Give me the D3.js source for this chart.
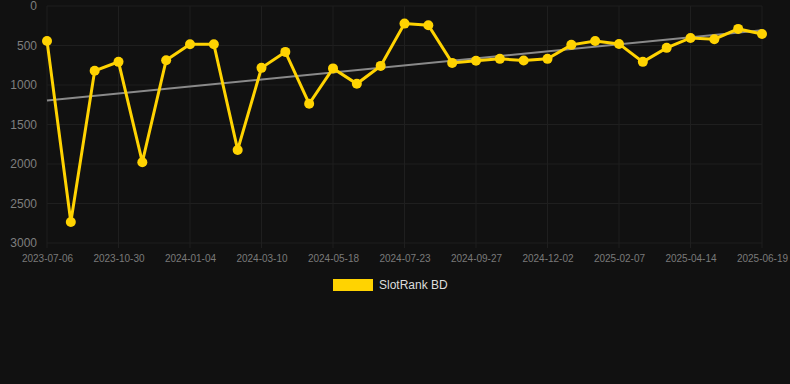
<!DOCTYPE html>
<html>
<head>
<meta charset="utf-8">
<script src="https://cdn.jsdelivr.net/npm/d3@7"></script>
<style>
  body { margin: 0; background: #111111; }
  svg { display: block; font-family: "Liberation Sans", Arial, sans-serif; }
</style>
</head>
<body>
<svg id="chart" width="790" height="384"></svg>
<script>
// dates (every third one is read off the axis, the rest are estimated)
const dates = [
  '2023-07-06', '2023-08-14', '2023-09-22', '2023-10-30', '2023-11-21', '2023-12-13',
  '2024-01-04', '2024-01-26', '2024-02-17', '2024-03-10', '2024-04-02', '2024-04-25',
  '2024-05-18', '2024-06-09', '2024-07-01', '2024-07-23', '2024-08-14', '2024-09-05',
  '2024-09-27', '2024-10-19', '2024-11-10', '2024-12-02', '2024-12-24', '2025-01-16',
  '2025-02-07', '2025-03-01', '2025-03-23', '2025-04-14', '2025-05-06', '2025-05-28',
  '2025-06-19'
];
const ranks = [
  442, 2735, 820, 707, 1977, 686,
  484, 484, 1822, 783, 581, 1237,
  790, 985, 758, 223, 244, 720,
  694, 669, 690, 669, 492, 442,
  480, 707, 530, 404, 420, 290,
  354
];
const yTicks = [0, 500, 1000, 1500, 2000, 2500, 3000];
const seriesName = 'SlotRank BD';

const svg = d3.select('#chart');
const margin = { top: 6, right: 28, bottom: 141, left: 47 };
const width = 790 - margin.left - margin.right;
const height = 384 - margin.top - margin.bottom;

const x = d3.scalePoint().domain(dates).range([0, width]);
const y = d3.scaleLinear().domain([0, 3000]).range([0, height]);

const g = svg.append('g').attr('transform', `translate(${margin.left},${margin.top})`);

// grid
g.append('g')
  .selectAll('line.h')
  .data(yTicks)
  .enter()
  .append('line')
  .attr('x1', 0).attr('x2', width)
  .attr('y1', d => y(d)).attr('y2', d => y(d))
  .attr('stroke', '#1f1f1f').attr('stroke-width', 1);

const xTicks = dates.filter((d, i) => i % 3 === 0);
g.append('g')
  .selectAll('line.v')
  .data(xTicks)
  .enter()
  .append('line')
  .attr('x1', d => x(d)).attr('x2', d => x(d))
  .attr('y1', 0).attr('y2', height + 5)
  .attr('stroke', '#1f1f1f').attr('stroke-width', 1);

// axes
const yAxis = g.append('g')
  .call(d3.axisLeft(y).tickValues(yTicks).tickFormat(d3.format('d')).tickSize(0).tickPadding(10));
yAxis.select('.domain').remove();
yAxis.selectAll('text')
  .attr('fill', '#7f7f7f')
  .style('font-size', '12px');

const xAxis = g.append('g')
  .attr('transform', `translate(0,${height})`)
  .call(d3.axisBottom(x).tickValues(xTicks).tickSize(0).tickPadding(12));
xAxis.select('.domain').remove();
xAxis.selectAll('text')
  .attr('fill', '#7a7a7a')
  .style('font-size', '10px');

// trend line (least squares over the series)
const n = ranks.length;
const mx = d3.mean(d3.range(n));
const my = d3.mean(ranks);
const slope = d3.sum(ranks, (v, i) => (i - mx) * (v - my)) / d3.sum(d3.range(n), i => (i - mx) * (i - mx));
const icpt = my - slope * mx;
g.append('line')
  .attr('x1', x(dates[0])).attr('y1', y(icpt))
  .attr('x2', x(dates[n - 1])).attr('y2', y(icpt + slope * (n - 1)))
  .attr('stroke', '#8a8a8a')
  .attr('stroke-width', 2);

// series
const data = dates.map((d, i) => ({ date: d, value: ranks[i] }));
g.append('path')
  .datum(data)
  .attr('fill', 'none')
  .attr('stroke', '#FFD301')
  .attr('stroke-width', 3)
  .attr('d', d3.line().x(d => x(d.date)).y(d => y(d.value)));

g.append('g')
  .selectAll('circle')
  .data(data)
  .enter()
  .append('circle')
  .attr('cx', d => x(d.date))
  .attr('cy', d => y(d.value))
  .attr('r', 5)
  .attr('fill', '#FFD301');

// legend
const legend = svg.append('g').attr('transform', 'translate(333,279)');
legend.append('rect')
  .attr('width', 40).attr('height', 12)
  .attr('fill', '#FFD301');
legend.append('text')
  .attr('x', 46).attr('y', 6)
  .attr('dominant-baseline', 'central')
  .attr('fill', '#dddddd')
  .style('font-size', '12px')
  .text(seriesName);
</script>
</body>
</html>
